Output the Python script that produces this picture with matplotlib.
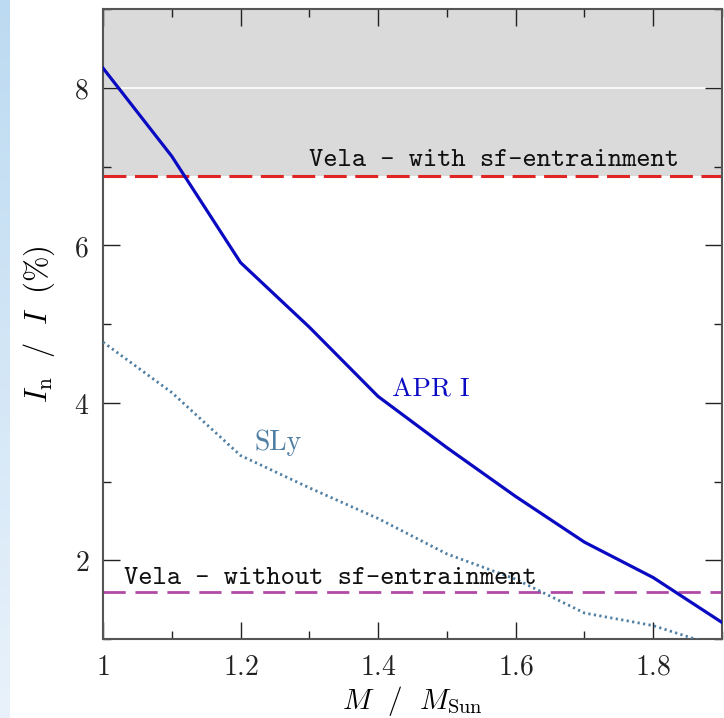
import numpy as np
import matplotlib
matplotlib.use("Agg")
import matplotlib.pyplot as plt
from matplotlib.ticker import MultipleLocator, FuncFormatter
from matplotlib.colors import LinearSegmentedColormap

plt.rcParams['mathtext.fontset'] = 'cm'

# neutron star mass (M / M_Sun)
mass = [1.0, 1.1, 1.2, 1.3, 1.4, 1.5, 1.6, 1.7, 1.8, 1.9]
# crustal moment of inertia fraction I_n / I (%)
apr_i = [8.25, 7.13, 5.78, 4.96, 4.08, 3.43, 2.81, 2.23, 1.78, 1.21]
sly = [4.77, 4.13, 3.33, 2.92, 2.53, 2.08, 1.76, 1.33, 1.17, 0.89]

# Vela glitch constraints
vela_with = 6.88
vela_without = 1.60

fig = plt.figure(figsize=(7.24, 7.18), dpi=100)

# light blue strip on the left edge of the slide
bg = fig.add_axes([0, 0, 10 / 724, 1])
grad = np.linspace(0, 1, 256).reshape(-1, 1)
cmap = LinearSegmentedColormap.from_list('strip', ['#bcdaf1', '#e9f2fb'])
bg.imshow(grad, aspect='auto', cmap=cmap, extent=[0, 1, 0, 1], origin='upper')
bg.axis('off')

ax = fig.add_axes([103 / 724, 79 / 718, 619 / 724, 630 / 718])

# excluded region above the entrainment limit
ax.axhspan(vela_with, 9, color='#dadada', zorder=0, lw=0)
ax.axhline(8, color='white', lw=1.2, zorder=0.5)

ax.axhline(vela_with, color='#e02525', lw=2.2, dashes=(7.5, 2.8), zorder=2)
ax.axhline(vela_without, color='#b04aa6', lw=2.0, dashes=(8, 3.5), zorder=2)

ax.plot(mass, apr_i, color='#0a0ac2', lw=2.3, zorder=3)
ax.plot(mass, sly, color='#4f7fa3', lw=2.0, dashes=(0.8, 1.2), zorder=3)

tt = dict(family='cmtt10', fontsize=19.5, color='#111111')
ax.text(1.30, 7.0, 'Vela - with sf-entrainment', va='baseline', **tt)
ax.text(1.03, 1.70, 'Vela - without sf-entrainment', va='baseline', **tt)

ax.text(1.42, 4.08, 'APR I', family='cmr10', fontsize=19.5, color='#0a0ac2', va='baseline')
ax.text(1.22, 3.40, 'SLy', family='cmr10', fontsize=20, color='#4f7fa3', va='baseline')

ax.set_xlim(1.0, 1.9)
ax.set_ylim(1.0, 9.0)

ax.xaxis.set_major_locator(MultipleLocator(0.2))
ax.xaxis.set_minor_locator(MultipleLocator(0.1))
ax.yaxis.set_major_locator(MultipleLocator(2))
ax.yaxis.set_minor_locator(MultipleLocator(1))
fmt = FuncFormatter(lambda v, p: '$%g$' % round(v, 2))
ax.xaxis.set_major_formatter(fmt)
ax.yaxis.set_major_formatter(fmt)

ax.tick_params(which='both', direction='in', top=True, right=True, colors='#222222')
ax.tick_params(which='major', length=12, width=1.0, labelsize=20, pad=10)
ax.tick_params(which='minor', length=6, width=1.0)
for s in ax.spines.values():
    s.set_color('#555555')
    s.set_linewidth(1.5)

ax.set_xlabel(r'$M\ \ /\ \ M_{\rm Sun}$', fontsize=21, labelpad=2)
ax.set_ylabel(r'$I_{\rm n}\ \ /\ \ I\ \ (\%)$', fontsize=22)
ax.yaxis.set_label_coords(-0.075, 0.5)

fig.savefig('out.png', dpi=100)
